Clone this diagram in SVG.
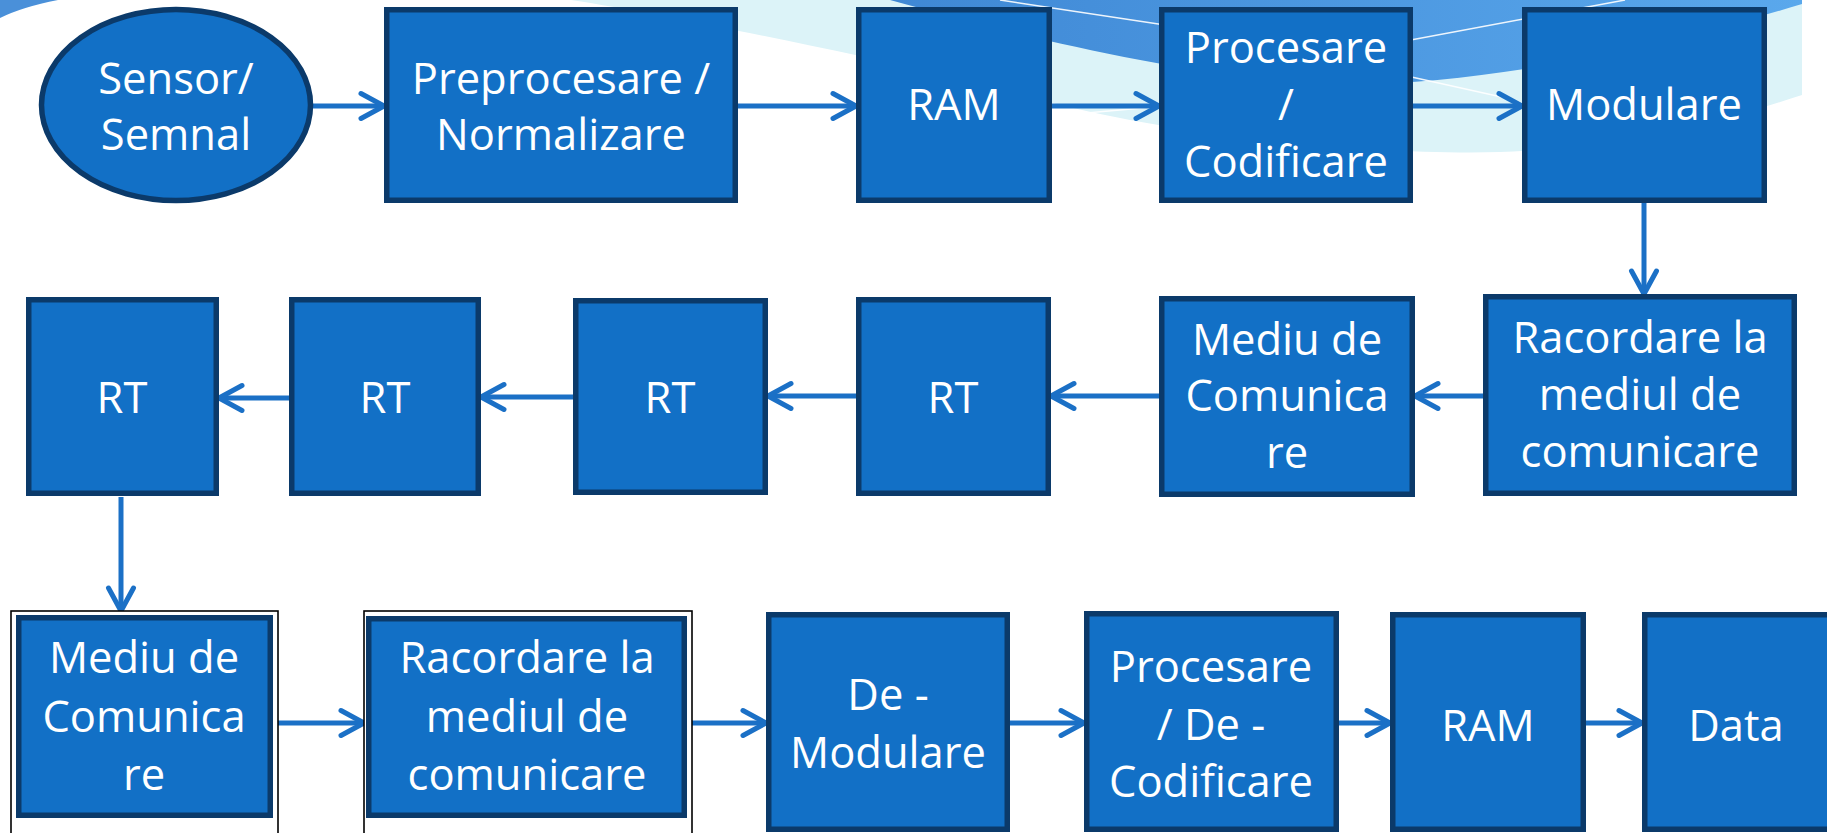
<svg xmlns="http://www.w3.org/2000/svg" width="1827" height="833" viewBox="0 0 1827 833">
<style>
.bx{fill:#1270c6;stroke:#0b3a6a;stroke-width:5.5}
.fr{fill:#ffffff;stroke:#000000;stroke-width:1.6}
.t{font-family:"Open Sans","Noto Sans",sans-serif;font-size:43.5px;fill:#ffffff;text-anchor:middle}
.cn{fill:none;stroke:#1b70c6;stroke-width:5;marker-end:url(#ah)}
.wl{fill:none;stroke:#ffffff;stroke-width:1.5;opacity:0.9}
</style>
<defs>
<linearGradient id="bg" x1="0" y1="0" x2="1" y2="0">
<stop offset="0" stop-color="#3f88d5"/>
<stop offset="1" stop-color="#5aa8ec"/>
</linearGradient>
<marker id="ah" markerUnits="userSpaceOnUse" markerWidth="34" markerHeight="34" viewBox="0 0 34 34" refX="29" refY="17" orient="auto" overflow="visible">
<path d="M6,4.5 L29,17 L6,29.5" fill="none" stroke="#1b70c6" stroke-width="5" stroke-linecap="round" stroke-linejoin="round"/>
</marker>
</defs>
<rect x="0" y="0" width="1827" height="833" fill="#ffffff"/>
<g id="background">
<path d="M0,0 L58,0 Q22,7 0,18 Z" fill="#4a90d9"/>
<path d="M571,0 C650,12 760,35 860,56 C960,78 1050,105 1130,120 C1250,142 1400,155 1500,152 C1620,148 1720,122 1802,95 L1802,0 Z" fill="#dcf3f8"/>
<path d="M890,0 C1000,30 1150,70 1300,82 C1450,94 1650,50 1802,4 L1802,0 Z" fill="url(#bg)"/>
<path class="wl" d="M1000,0 L1165,25"/>
<path class="wl" d="M1400,42 L1625,0"/>
<path class="wl" d="M1380,70 L1515,100"/>
<path class="wl" d="M1075,114 L1165,106"/>
</g>
<g id="connectors">
<path class="cn" d="M313,106 L384,106"/>
<path class="cn" d="M738,106 L856,106"/>
<path class="cn" d="M1052,106 L1159,106"/>
<path class="cn" d="M1413,106 L1522,106"/>
<path class="cn" d="M1644,203 L1644,294"/>
<path class="cn" d="M1483,396 L1415,396"/>
<path class="cn" d="M1159,396 L1051,396"/>
<path class="cn" d="M856,396 L768,396"/>
<path class="cn" d="M573,397 L481,397"/>
<path class="cn" d="M289,398 L219,398"/>
<path class="cn" d="M121,497 L121,611"/>
<path class="cn" d="M278,723 L364,723"/>
<path class="cn" d="M692,723 L766,723"/>
<path class="cn" d="M1010,723 L1084,723"/>
<path class="cn" d="M1339,723 L1390,723"/>
<path class="cn" d="M1586,723 L1642,723"/>
</g>
<g id="n-sensor">
<ellipse cx="176" cy="105" rx="134.5" ry="95.5" class="bx"/>
<text class="t" x="176" y="94">Sensor/</text>
<text class="t" x="176" y="150">Semnal</text>
</g>
<g id="n-preprocesare">
<rect class="bx" x="386.75" y="9.75" width="348.5" height="190.5"/>
<text class="t" x="561" y="94">Preprocesare /</text>
<text class="t" x="561" y="150">Normalizare</text>
</g>
<g id="n-ram1">
<rect class="bx" x="858.75" y="9.75" width="190.5" height="190.5"/>
<text class="t" x="954" y="120">RAM</text>
</g>
<g id="n-procesare">
<rect class="bx" x="1161.75" y="9.75" width="248.5" height="190.5"/>
<text class="t" x="1286" y="63">Procesare</text>
<text class="t" x="1286" y="120">/</text>
<text class="t" x="1286" y="177">Codificare</text>
</g>
<g id="n-modulare">
<rect class="bx" x="1524.75" y="9.75" width="239.5" height="190.5"/>
<text class="t" x="1644" y="120">Modulare</text>
</g>
<g id="n-racordare1">
<rect class="bx" x="1485.75" y="296.75" width="308.5" height="196.5"/>
<text class="t" x="1640" y="353">Racordare la</text>
<text class="t" x="1640" y="410">mediul de</text>
<text class="t" x="1640" y="467">comunicare</text>
</g>
<g id="n-mediu1">
<rect class="bx" x="1161.75" y="298.75" width="250.5" height="195.5"/>
<text class="t" x="1287" y="355">Mediu de</text>
<text class="t" x="1287" y="411">Comunica</text>
<text class="t" x="1287" y="468">re</text>
</g>
<g id="n-rt4">
<rect class="bx" x="858.75" y="299.75" width="189.5" height="193.5"/>
<text class="t" x="953" y="413">RT</text>
</g>
<g id="n-rt3">
<rect class="bx" x="575.75" y="300.75" width="189.5" height="191.5"/>
<text class="t" x="670" y="413">RT</text>
</g>
<g id="n-rt2">
<rect class="bx" x="291.75" y="299.75" width="186.5" height="193.5"/>
<text class="t" x="385" y="413">RT</text>
</g>
<g id="n-rt1">
<rect class="bx" x="28.75" y="299.75" width="187.5" height="193.5"/>
<text class="t" x="122" y="413">RT</text>
</g>
<g id="n-mediu2">
<rect class="fr" x="11" y="611" width="267" height="240"/>
<rect class="bx" x="18.75" y="617.75" width="251.5" height="197.5"/>
<text class="t" x="144" y="673">Mediu de</text>
<text class="t" x="144" y="732">Comunica</text>
<text class="t" x="144" y="790">re</text>
</g>
<g id="n-racordare2">
<rect class="fr" x="364" y="611" width="328" height="240"/>
<rect class="bx" x="368.75" y="618.75" width="315.5" height="196.5"/>
<text class="t" x="527" y="673">Racordare la</text>
<text class="t" x="527" y="732">mediul de</text>
<text class="t" x="527" y="790">comunicare</text>
</g>
<g id="n-demodulare">
<rect class="bx" x="768.75" y="614.75" width="238.5" height="214.5"/>
<text class="t" x="888" y="710">De -</text>
<text class="t" x="888" y="768">Modulare</text>
</g>
<g id="n-procesare2">
<rect class="bx" x="1086.75" y="613.75" width="249.5" height="215.5"/>
<text class="t" x="1211" y="682">Procesare</text>
<text class="t" x="1211" y="740">/ De -</text>
<text class="t" x="1211" y="797">Codificare</text>
</g>
<g id="n-ram2">
<rect class="bx" x="1392.75" y="614.75" width="190.5" height="214.5"/>
<text class="t" x="1488" y="741">RAM</text>
</g>
<g id="n-data">
<rect class="bx" x="1644.75" y="614.75" width="210" height="214.5"/>
<text class="t" x="1736" y="741">Data</text>
</g>
</svg>
